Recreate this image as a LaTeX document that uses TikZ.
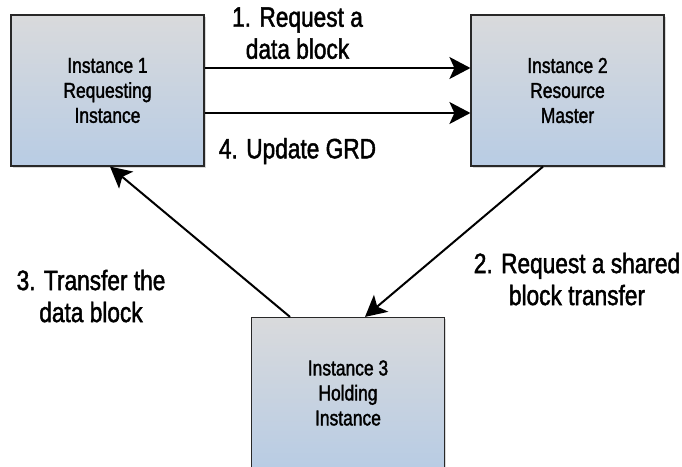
\documentclass[tikz,border=0pt]{standalone}
\usepackage{fontspec}
\setmainfont{Liberation Sans}[FakeStretch=0.81, FakeBold=1.6]
\usepackage{tikz}
\usetikzlibrary{arrows.meta,shadows}
\definecolor{boxtop}{RGB}{217,218,220}
\definecolor{boxbottom}{RGB}{184,204,228}
\definecolor{boxline}{RGB}{40,40,40}
\tikzstyle{instance box}=[
        draw = boxline,
        line width = 1.2pt,
        top color = boxtop,
        bottom color = boxbottom,
        minimum width = 193pt,
        minimum height = 151pt,
        align = center,
        font = \fontsize{21.5}{25}\selectfont,
        drop shadow = {shadow xshift=1.5pt, shadow yshift=-1.5pt, fill=black!30, opacity=0.5}
    ]
\tikzstyle{step label}=[
    align = center,
    inner sep = 0pt,
    font = \fontsize{28}{32}\selectfont
]
\tikzstyle{msg}=[
    line width = 2pt,
    -{Stealth[length=21pt, width=22pt, inset=5pt]}
]

\begin{document}
\begin{tikzpicture}[x=1pt, y=-1pt, node distance={460pt}]
        \useasboundingbox (0,0) rectangle (682,466);
        \node[instance box] (b1) at (107.5,90.5) {Instance 1\\Requesting\\Instance};
        \node[instance box] (b2) [right of = b1] {Instance 2\\Resource\\Master};
        \node[instance box] (b3) [below of = b1, node distance={302.5pt}, xshift=240.5pt] {Instance 3\\Holding\\Instance};

        \draw[msg] ([yshift=22.5pt]b1.east) -- ([yshift=22.5pt]b2.west) node [step label, midway, anchor=south, xshift=-40pt, yshift=8pt] {1. Request a\\data block};
        \draw[msg] ([yshift=-22.5pt]b1.east) -- ([yshift=-22.5pt]b2.west) node [step label, midway, anchor=north, xshift=-40pt, yshift=-24pt] {4. Update GRD};
        \draw[msg] ([xshift=-24.5pt]b2.south) -- ([xshift=17pt]b3.north) node [step label, midway, anchor=north, xshift=123pt, yshift=-10pt] {2. Request a shared\\block transfer};
        \draw[msg] ([xshift=-58pt]b3.north) -- ([xshift=2.5pt]b1.south) node [step label, midway, anchor=north, xshift=-109pt, yshift=-27pt] {3. Transfer the\\data block};

    \end{tikzpicture}
\end{document}
